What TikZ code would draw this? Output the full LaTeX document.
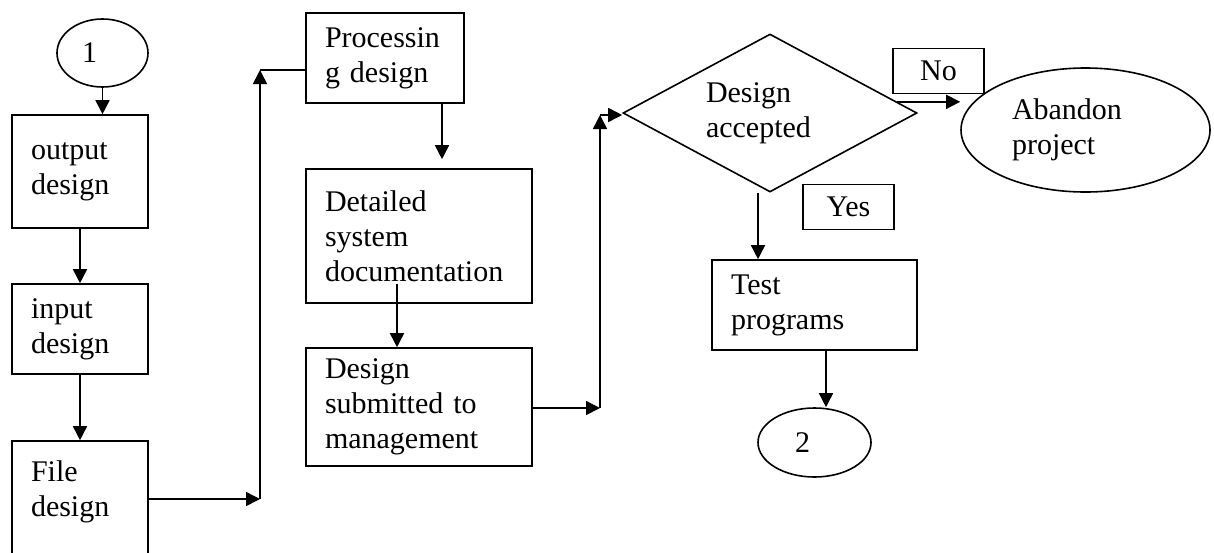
\documentclass[tikz,border=0pt]{standalone}
\usepackage{fontspec}
\setmainfont{Liberation Serif}
\usepackage{tikz}
\usetikzlibrary{positioning,arrows.meta,shapes.geometric,calc}

\begin{document}
\begin{tikzpicture}[x=1pt,y=-1pt,line width=1.6pt]
	\tikzset{procbox/.style={draw,rectangle,align=left,inner xsep=19pt,inner ysep=0pt,font=\fontsize{30}{35}\selectfont}}
	\tikzset{labbox/.style={draw,rectangle,inner sep=0pt,minimum width=91pt,minimum height=45pt,font=\fontsize{30}{35}\selectfont}}
	\tikzset{termnode/.style={draw,ellipse,inner sep=0pt,align=left,font=\fontsize{30}{35}\selectfont}}
	\tikzset{decnode/.style={draw,diamond,aspect=1.86,inner sep=0pt,align=left,font=\fontsize{30}{35}\selectfont}}
	\tikzset{flow/.style={-{Triangle[width=14pt,length=14pt]}}}
	\useasboundingbox (0,0) rectangle (1214,552);
	\clip (0,0) rectangle (1214,552);

	%% left column
	\node[termnode,text width=41pt,minimum width=91pt,minimum height=68pt] (c1) at (102.5,53) {1};
	\node[procbox,text width=98pt,minimum height=113pt] (outd) at (80,171.5) {output\\design};
	\node[procbox,text width=98pt,minimum height=90pt] (inpd) at (80,329) {input\\design};
	\node[procbox,text width=98pt,minimum height=130pt] (filed) at (80,506) {File\\design\\~};

	%% middle column
	\node[procbox,text width=120pt,minimum height=90pt] (procd) at (385,58) {Processin\\g design};
	\node[procbox,text width=188pt,minimum height=134pt] (detd) at (419,236) {Detailed\\system\\documentation};
	\node[procbox,text width=188pt,minimum height=118pt] (subd) at (419,407) {Design\\submitted to\\management};

	%% decision and right part
	\node[decnode,text width=128pt,minimum width=294pt,minimum height=158pt] (acc) at (770,113) {Design\\accepted};
	\node[labbox] (no) at (938.5,71) {No};
	\node[labbox] (yes) at (848.5,207) {Yes};
	\node[termnode,text width=147pt,minimum width=249pt,minimum height=124pt] (aband) at (1085.5,130) {Abandon\\project};
	\node[procbox,text width=167pt,minimum height=90pt] (testp) at (814.5,305) {Test\\programs};
	\node[termnode,text width=39pt,minimum width=113pt,minimum height=69pt] (c2) at (814.5,442.5) {2};

	\coordinate (j1) at (260,499);
	\coordinate (j2) at (260,70);
	\coordinate (j3) at (600,408);
	\coordinate (j4) at (600,115);
	\coordinate (k1) at ($(acc.north east)!0.72!(acc.east)$);

	%% connectors
	\draw[flow] (c1.south) -- (c1.south |- outd.north);
	\draw[flow] (outd) -- (inpd);
	\draw[flow] (inpd) -- (filed);
	\draw[flow] (filed.east |- j1) -- (j1);
	\draw[flow] (j1) -- (j2);
	\draw (j2) -- (j2 -| procd.west);
	\draw[flow,shorten >=9pt] ([xshift=57pt]procd.south) -- ([xshift=57pt]procd.south |- detd.north);
	\draw[flow] ([xshift=-22pt,yshift=20pt]detd.south) -- ([xshift=-22pt]detd.south |- subd.north);
	\draw[flow] (subd.east |- j3) -- (j3);
	\draw[flow] (j3) -- (j4);
	\draw[flow] (j4) -- (j4 -| acc.west);
	\draw[flow] (k1) -- (k1 -| aband.west);
	\draw[flow] ([xshift=-12pt]acc.south) -- ([xshift=-12pt]acc.south |- testp.north);
	\draw[flow] ([xshift=11.5pt]testp.south) -- ([xshift=11.5pt]testp.south |- c2.north);
\end{tikzpicture}
\end{document}
